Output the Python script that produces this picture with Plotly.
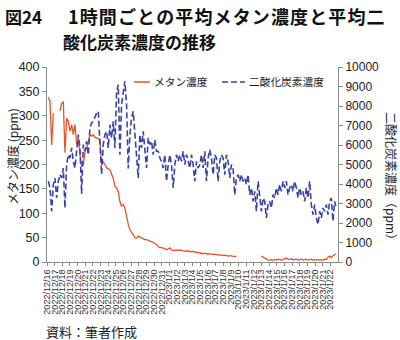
import plotly.graph_objects as go
import pandas as pd

# CO2 concentration (ppm), sampled roughly every 313 min from 2022-12-16 04:10
co2 = [
    4140, 3800, 2600, 3970, 4310, 3280, 4140, 4480, 4310, 4820,
    2770, 4990, 5500, 5330, 5850, 5160, 4820, 5760, 6530, 5850,
    3500, 6020, 5680, 6190, 5500, 6870, 7130, 7210, 7390, 7640,
    7730, 6360, 4500, 6020, 6530, 6700, 5850, 7040, 6360, 7210,
    5850, 8750, 9090, 5500, 8070, 8670, 9270, 8070, 4800, 6530,
    7390, 7730, 6700, 5500, 4310, 6530, 5850, 6700, 5500, 4820,
    6360, 6020, 6190, 5500, 6270, 5680, 5680, 5330, 5160, 4820,
    5500, 4140, 4990, 5500, 4990, 3800, 4990, 5500, 5160, 5500,
    5160, 5680, 4990, 5500, 5160, 4820, 5500, 4990, 4140, 5160,
    4820, 4990,
    5500, 4820, 5680, 4140, 5330, 5760, 5330, 4480, 5500, 5330,
    4140, 5160, 5500, 5330, 4480, 5500, 5160, 4310, 4990, 4820,
    3450, 4310, 4480, 4140, 4480, 4140, 4310, 3970, 4480, 3450,
    3800, 3110, 3620, 2600, 4140, 3450, 2600, 3280, 3110, 2260,
    2940, 3110, 2770, 3450, 3280, 3800, 3450, 3970, 3620, 4140,
    3800, 4140, 3450, 3800, 3970, 3620, 4140, 3800, 3280, 3800,
    3450, 3620, 3110, 3800, 3280, 4140, 2940, 2430, 2940, 2260,
    1920, 2600, 2260, 2770, 2600, 2940, 2430, 3110, 3280, 2090,
    3110, 2770,
]

# Methane concentration (ppm), same sampling; None = no data
ch4 = [
    338, 330, 240, 305, None, None, None, 310, 326, 328,
    224, 295, 289, 268, 282, 261, 282, 241, 254, 220,
    196, 200, 227, 234, 245, 261, 258, 261, 256, 254,
    252, 251, 200, 206, 200, 193, 191, 189, 180, 172,
    155, 152, 145, 124, 114, 118, 111, 90, 77, 66,
    60, 56, 50, 49, 53, 51, 49, 48, 46, 46,
    44, 43, 42, 40, 38, 36, 32, 29, 30, 29,
    27, 25, 27, 29, 25, 23, 24, 25, 23, 25,
    24, 23, 22, 23, 22, 22, 21, 22, 20, 20,
    19, 18,
    18, 17, 18, 17, 16, 17, 16, 15, 16, 15,
    14, 15, 14, 13, 14, 13, 12, 13, 12, 12,
    11, 12, None, None, None, None, None, None, None, None,
    None, None, None, None, None, None, 12, 10, 7, 5,
    4, 4, 5, 4, 5, 4, 6, 5, 4, 5,
    6, 8, 6, 5, 7, 4, 5, 6, 4, 5,
    6, 4, 5, 6, 4, 5, 6, 4, 5, 4,
    5, 4, 5, 4, 6, 5, 10, 12, 9, 13,
    15, 17,
]

series_names = ["メタン濃度", "二酸化炭素濃度"]
sample_start = "2022-12-16 04:10"
sample_freq = "313min"
day_start = "2022-12-16"
day_end = "2023-01-22"

times = pd.date_range(sample_start, periods=len(co2), freq=sample_freq)
days = pd.date_range(day_start, day_end, freq="D")
day_labels = [f"{d.year}/{d.month}/{d.day}" for d in days]

ORANGE = "#E2552B"
BLUE = "#3A44A0"
AXIS = "#8c8c8c"
TXT = "#222222"
DASH = "6px,3px"

fig = go.Figure()
fig.add_trace(go.Scatter(
    x=times, y=ch4, name=series_names[0], mode="lines",
    line=dict(color=ORANGE, width=1.3), connectgaps=False,
))
fig.add_trace(go.Scatter(
    x=times, y=co2, name=series_names[1], mode="lines", yaxis="y2",
    line=dict(color=BLUE, width=1.6, dash=DASH),
))

L, R, T, B = 47, 62, 67, 78
W, H = 400, 340
pw, ph = W - L - R, H - T - B

def px(xp):
    return (xp - L) / pw

def py(yp):
    return (H - B - yp) / ph

tickfont = dict(family="Liberation Sans, Arial, sans-serif", size=12.5, color=TXT)
cjk = "Noto Sans CJK JP"

fig.update_layout(
    width=W, height=H,
    margin=dict(l=L, r=R, t=T, b=B),
    paper_bgcolor="white", plot_bgcolor="white",
    showlegend=False,
    xaxis=dict(
        type="date",
        range=[pd.Timestamp(day_start), pd.Timestamp(day_end) + pd.Timedelta(days=1)],
        tickmode="array", tickvals=days, ticktext=day_labels,
        tickangle=-90, tickfont=dict(family="Liberation Sans, Arial, sans-serif", size=9, color="#333"),
        showline=True, linecolor=AXIS, linewidth=1,
        ticks="outside", ticklen=3, tickcolor=AXIS,
        showgrid=False, zeroline=False,
    ),
    yaxis=dict(
        range=[0, 400], dtick=50, tickfont=tickfont,
        showline=True, linecolor=AXIS, linewidth=1,
        ticks="outside", ticklen=4, tickcolor=AXIS,
        showgrid=False, zeroline=False,
    ),
    yaxis2=dict(
        range=[0, 10000], dtick=1000, overlaying="y", side="right",
        tickfont=dict(family="Liberation Sans, Arial, sans-serif", size=12, color=TXT),
        tickformat="d",
        showline=True, linecolor=AXIS, linewidth=1,
        ticks="outside", ticklen=4, tickcolor=AXIS,
        showgrid=False, zeroline=False,
    ),
)

# manual legend
leg_y = 82
shapes = [
    dict(type="line", xref="paper", yref="paper", x0=px(134), x1=px(150),
         y0=py(leg_y), y1=py(leg_y), line=dict(color=ORANGE, width=1.5)),
    dict(type="line", xref="paper", yref="paper", x0=px(222), x1=px(245),
         y0=py(leg_y), y1=py(leg_y), line=dict(color=BLUE, width=1.6, dash=DASH)),
]
fig.update_layout(shapes=shapes)

ann = []
lf = dict(family=cjk, size=10.7, color=TXT)
ann.append(dict(text=series_names[0], x=px(152), y=py(leg_y), xanchor="left",
                yanchor="middle", font=lf))
ann.append(dict(text=series_names[1], x=px(247), y=py(leg_y), xanchor="left",
                yanchor="middle", font=lf))

tf = dict(family=cjk, size=17, color="#111", weight="bold")
ann.append(dict(text="図24", x=px(3), y=py(16), xanchor="left", yanchor="middle",
                font=tf))
line1 = "1時間ごとの平均メタン濃度と平均二"
ann.append(dict(text="\u200a".join(line1), x=px(66), y=py(16), xanchor="left",
                yanchor="middle", font=dict(family=cjk, size=18, color="#111", weight="bold")))
ann.append(dict(text="酸化炭素濃度の推移", x=px(61), y=py(41), xanchor="left",
                yanchor="middle", font=tf))
ann.append(dict(text="メタン濃度 (ppm)", x=px(12), y=py(157), textangle=-90,
                xanchor="center", yanchor="middle",
                font=dict(family=cjk, size=12, color=TXT)))
ann.append(dict(text="二酸化炭素濃度（ppm）", x=px(392), y=py(179), textangle=90,
                xanchor="center", yanchor="middle",
                font=dict(family=cjk, size=12, color=TXT)))
ann.append(dict(text="資料：筆者作成", x=px(44), y=py(331), xanchor="left",
                yanchor="middle", font=dict(family=cjk, size=13, color=TXT)))
for a in ann:
    a.update(xref="paper", yref="paper", showarrow=False)
fig.update_layout(annotations=ann)

fig.write_html("out.html")
